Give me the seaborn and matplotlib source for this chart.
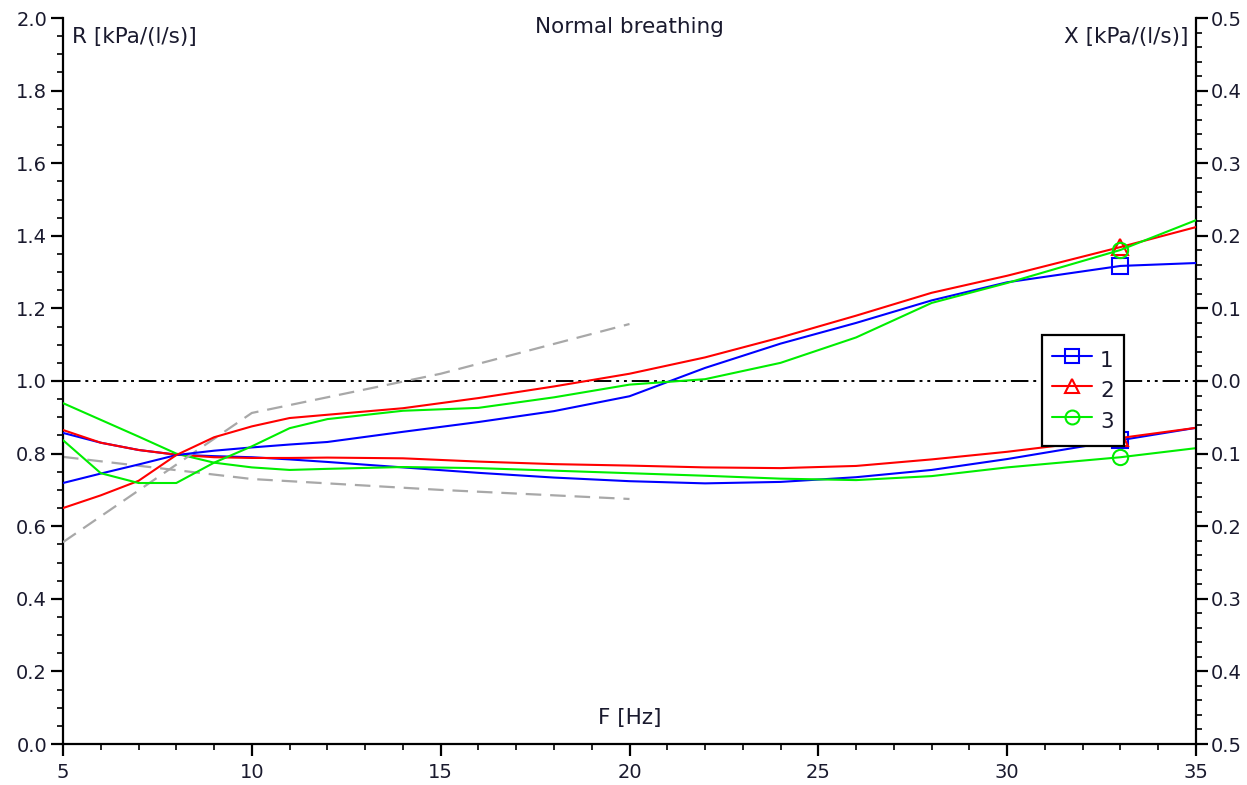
import numpy as np
import pandas as pd
import matplotlib
matplotlib.use("Agg")
import matplotlib.pyplot as plt
from matplotlib.ticker import MultipleLocator, FuncFormatter
from matplotlib.lines import Line2D
import seaborn as sns

# ---------------- data ----------------
freq = [5, 6, 7, 8, 9, 10, 11, 12, 14, 16, 18, 20, 22, 24, 26, 28, 30, 33, 35]

r_1 = [0.857, 0.830, 0.810, 0.797, 0.793, 0.790, 0.784, 0.777, 0.762, 0.747,
       0.734, 0.724, 0.718, 0.722, 0.735, 0.755, 0.785, 0.837, 0.871]
r_2 = [0.865, 0.830, 0.810, 0.797, 0.790, 0.788, 0.788, 0.789, 0.787, 0.778,
       0.771, 0.767, 0.762, 0.760, 0.766, 0.784, 0.805, 0.843, 0.871]
r_3 = [0.939, 0.893, 0.847, 0.800, 0.775, 0.762, 0.755, 0.758, 0.763, 0.760,
       0.753, 0.746, 0.739, 0.731, 0.727, 0.738, 0.762, 0.790, 0.815]

x_1 = [-0.1405, -0.1275, -0.115, -0.102, -0.096, -0.0915, -0.0875, -0.084, -0.070, -0.0565,
       -0.0415, -0.021, 0.018, 0.0515, 0.080, 0.111, 0.136, 0.1585, 0.1625]
x_2 = [-0.175, -0.1575, -0.1375, -0.102, -0.0775, -0.0625, -0.051, -0.0465, -0.0375, -0.0235,
       -0.0075, 0.010, 0.0325, 0.060, 0.090, 0.1215, 0.145, 0.1845, 0.212]
x_3 = [-0.0815, -0.127, -0.1405, -0.1405, -0.1125, -0.090, -0.065, -0.0525, -0.041, -0.037,
       -0.0225, -0.005, 0.0025, 0.025, 0.060, 0.1075, 0.135, 0.1805, 0.2215]

pred_freq = [5, 10, 15, 20]
r_pred = [0.791, 0.730, 0.700, 0.675]
x_pred = [-0.222, -0.044, 0.010, 0.0785]

series_labels = ["1", "2", "3"]
series_colors = ["#0000ff", "#ff0000", "#00ee00"]
series_markers = ["s", "^", "o"]
marker_freq = 33

title = "Normal breathing"
r_label = "R [kPa/(l/s)]"
x_label_right = "X [kPa/(l/s)]"
f_label = "F [Hz]"

# ---------------- figure ----------------
sns.set_style("ticks")
plt.rcParams["font.family"] = ["DejaVu Sans"]
FS = 14
FS_TXT = 15.5
TXT_COLOR = "#1a1a2e"

fig = plt.figure(figsize=(12.47, 7.85), dpi=100)
ax = fig.add_axes([63 / 1247, 1 - 744 / 785, (1196 - 63) / 1247, (744 - 18) / 785])
ax2 = ax.twinx()

mi = freq.index(marker_freq)

# reference line at R = 1.0 (X = 0)
ax.axhline(1.0, color="black", lw=1.4, dashes=(9, 2.5, 1.5, 2.5, 1.5, 2.5), zorder=1)

# predicted (gray dashed)
sns.lineplot(x=pred_freq, y=r_pred, ax=ax, color="#a8a8a8", lw=1.6,
             linestyle=(0, (7, 4)), zorder=2)
sns.lineplot(x=pred_freq, y=x_pred, ax=ax2, color="#a8a8a8", lw=1.6,
             linestyle=(0, (7, 4)), zorder=2)

r_all = [r_1, r_2, r_3]
x_all = [x_1, x_2, x_3]
for rv, xv, col, mk in zip(r_all, x_all, series_colors, series_markers):
    sns.lineplot(x=freq, y=rv, ax=ax, color=col, lw=1.5, marker=mk, markevery=[mi],
                 markersize=11, markerfacecolor="none", markeredgecolor=col,
                 markeredgewidth=1.5, zorder=3)
    sns.lineplot(x=freq, y=xv, ax=ax2, color=col, lw=1.5, marker=mk, markevery=[mi],
                 markersize=11, markerfacecolor="none", markeredgecolor=col,
                 markeredgewidth=1.5, zorder=3)

# ---------------- axes ----------------
ax.set_xlim(5, 35)
ax.set_ylim(0, 2.0)
ax2.set_ylim(-0.5, 0.5)

ax.xaxis.set_major_locator(MultipleLocator(5))
ax.xaxis.set_minor_locator(MultipleLocator(1))
ax.yaxis.set_major_locator(MultipleLocator(0.2))
ax.yaxis.set_minor_locator(MultipleLocator(0.05))
ax.yaxis.set_major_formatter(FuncFormatter(lambda v, p: f"{v:.1f}"))
ax2.yaxis.set_major_locator(MultipleLocator(0.1))
ax2.yaxis.set_minor_locator(MultipleLocator(0.02))
ax2.yaxis.set_major_formatter(FuncFormatter(lambda v, p: f"{abs(v):.1f}"))

for a in (ax, ax2):
    a.set_xlabel("")
    a.set_ylabel("")
    for s in a.spines.values():
        s.set_color("black")
        s.set_linewidth(1.6)
    a.spines["top"].set_visible(False)

ax.spines["right"].set_visible(False)
ax2.spines["left"].set_visible(False)
ax2.spines["bottom"].set_visible(False)

ax.tick_params(axis="both", which="major", direction="out", length=8.5, width=1.6,
               labelsize=FS, colors="black", labelcolor=TXT_COLOR, pad=3)
ax.tick_params(axis="both", which="minor", direction="out", length=4.5, width=1.4)
ax.tick_params(axis="x", which="major", pad=5)
ax2.tick_params(axis="y", which="major", direction="out", length=8.5, width=1.6,
                labelsize=FS, colors="black", labelcolor=TXT_COLOR, pad=2)
ax2.tick_params(axis="y", which="minor", direction="out", length=4.5, width=1.4)

# texts inside the plot
ax.text(0.5, 0.988, title, transform=ax.transAxes, ha="center", va="center",
        fontsize=FS_TXT, color=TXT_COLOR)
ax.text(0.008, 0.974, r_label, transform=ax.transAxes, ha="left", va="center",
        fontsize=FS_TXT, color=TXT_COLOR)
ax.text(0.993, 0.974, x_label_right, transform=ax.transAxes, ha="right", va="center",
        fontsize=FS_TXT, color=TXT_COLOR)
ax.text(0.5, 0.036, f_label, transform=ax.transAxes, ha="center", va="center",
        fontsize=FS_TXT, color=TXT_COLOR)

# legend
handles = [Line2D([0], [0], color=c, lw=1.5, marker=m, markersize=10,
                  markerfacecolor="none", markeredgecolor=c, markeredgewidth=1.5)
           for c, m in zip(series_colors, series_markers)]
leg = ax2.legend(handles, series_labels, loc="upper left",
                 bbox_to_anchor=(1042 / 1247, 1 - 335 / 785), bbox_transform=fig.transFigure,
                 frameon=True, fancybox=False, framealpha=1, edgecolor="black",
                 fontsize=FS_TXT, handlelength=1.85, handleheight=1.8, handletextpad=0.4,
                 labelspacing=0.0, borderpad=0.45, borderaxespad=0)
leg.get_frame().set_linewidth(1.6)
for t in leg.get_texts():
    t.set_color(TXT_COLOR)
leg.set_zorder(10)

fig.savefig("out.png", dpi=100, facecolor="white")
